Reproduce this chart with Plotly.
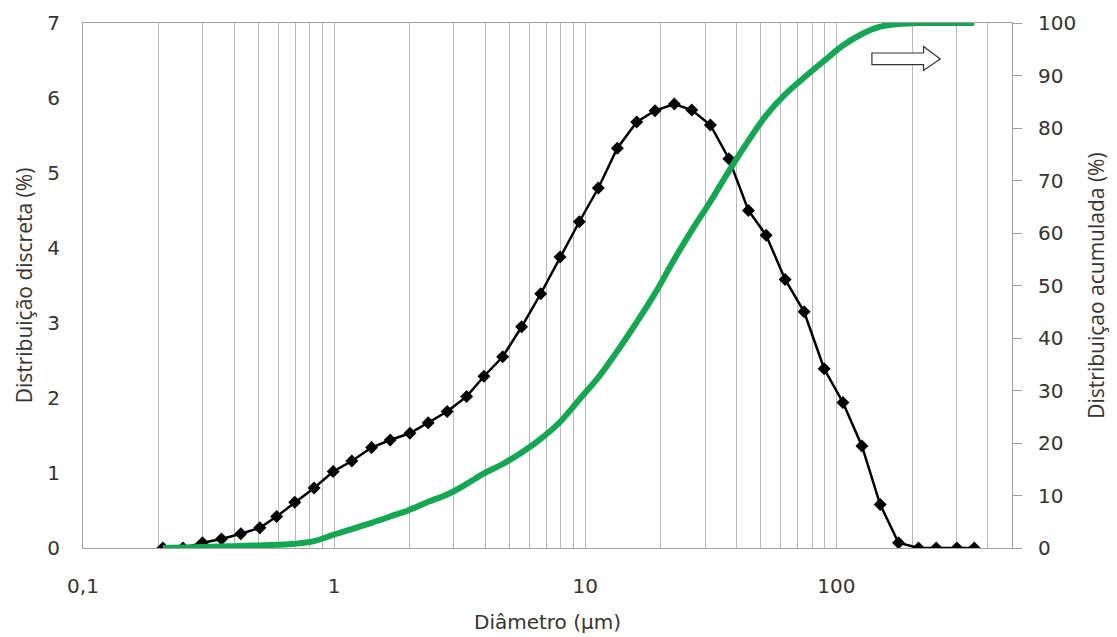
import plotly.graph_objects as go

# ---- data ----
diametro = [0.208, 0.250, 0.299, 0.356, 0.425, 0.506, 0.590, 0.697, 0.832, 0.991,
            1.176, 1.409, 1.672, 2.002, 2.369, 2.819, 3.369, 3.949, 4.688, 5.579,
            6.643, 7.929, 9.465, 11.27, 13.41, 16.02, 18.95, 22.62, 26.54, 31.48,
            37.30, 44.62, 52.48, 62.46, 74.34, 89.33, 106.1, 126.3, 149.3, 176.6,
            212.2, 249.6, 301.8, 353.7]
discreta = [0.0, 0.0, 0.07, 0.12, 0.19, 0.27, 0.42, 0.61, 0.80, 1.02,
            1.16, 1.34, 1.44, 1.53, 1.67, 1.82, 2.02, 2.29, 2.55, 2.95,
            3.39, 3.88, 4.35, 4.80, 5.33, 5.68, 5.83, 5.92, 5.84, 5.64,
            5.19, 4.50, 4.17, 3.58, 3.15, 2.39, 1.94, 1.36, 0.58, 0.07,
            0.0, 0.0, 0.0, 0.0]
acumulada = [0.0, 0.1, 0.2, 0.3, 0.4, 0.5, 0.6, 0.8, 1.3, 2.5,
             3.6, 4.8, 6.0, 7.3, 8.8, 10.2, 12.2, 14.2, 16.0, 18.2,
             20.8, 24.0, 28.3, 32.5, 37.5, 43.0, 48.5, 55.0, 60.5, 66.0,
             71.8, 77.6, 82.4, 86.4, 89.6, 92.8, 95.7, 97.9, 99.3, 99.8,
             100.0, 100.0, 100.0, 100.0]

grid_vals = [0.1, 0.2, 0.3, 0.4, 0.5, 0.6, 0.7, 0.8, 0.9,
             1, 2, 3, 4, 5, 6, 7, 8, 9,
             10, 20, 30, 40, 50, 60, 70, 80, 90,
             100, 200, 300, 400, 500]
decade_labels = {0.1: "0,1", 1: "1", 10: "10", 100: "100"}
grid_text = [decade_labels.get(v, "") for v in grid_vals]

y_left_ticks = [0, 1, 2, 3, 4, 5, 6, 7]
y_right_ticks = [0, 10, 20, 30, 40, 50, 60, 70, 80, 90, 100]

FONT = "DejaVu Sans"
VFONT = "Open Sans"
TXT = "#333333"
GRID = "#B8B8B8"
AXIS = "#A0A0A0"

fig = go.Figure()
fig.add_trace(go.Scatter(
    x=diametro, y=acumulada, mode="lines", yaxis="y2",
    line=dict(color="#14A751", width=6, shape="spline", smoothing=1.0),
    showlegend=False, hoverinfo="skip"))
fig.add_trace(go.Scatter(
    x=diametro, y=discreta, mode="lines+markers",
    line=dict(color="black", width=2.5),
    marker=dict(symbol="diamond", size=10, color="black"),
    showlegend=False))

fig.update_layout(
    width=1117, height=637,
    margin=dict(l=83, r=105, t=23, b=89),
    paper_bgcolor="white", plot_bgcolor="white",
    font=dict(family=FONT, size=20, color=TXT),
    xaxis=dict(
        type="log", range=[-1, 2.69897], automargin=False,
        tickmode="array", tickvals=grid_vals, ticktext=grid_text,
        showgrid=True, gridcolor=GRID, gridwidth=1,
        showline=True, linecolor=AXIS, linewidth=1, mirror=True,
        ticks="", ticklabelstandoff=20,
        title=dict(text="Diâmetro (µm)", standoff=17, font=dict(family=FONT, size=20)),
        zeroline=False),
    yaxis=dict(
        range=[0, 7], tickmode="array", tickvals=y_left_ticks, automargin=False,
        showgrid=False, zeroline=False,
        showline=True, linecolor=AXIS, linewidth=1,
        ticks="", ticklabelstandoff=18,
        title=dict(text="Distribuição discreta (%)", standoff=8, font=dict(family=VFONT, size=21))),
    yaxis2=dict(
        range=[0, 100], overlaying="y", side="right", automargin=False,
        tickmode="array", tickvals=y_right_ticks,
        showgrid=False, zeroline=False,
        showline=True, linecolor=AXIS, linewidth=1,
        ticks="outside", ticklen=9, tickcolor=AXIS, ticklabelstandoff=12,
        title=dict(text="Distribuiçao acumulada (%)", standoff=14, font=dict(family=VFONT, size=21))),
)

# outlined block arrow (annotation graphic) in paper coordinates
def px(xp, yp):
    return (xp - 83.3) / 928.4, (548.3 - yp) / 525.0

pts = [(871.7, 53.3), (923.3, 53.3), (923.3, 46.7), (940.0, 59.3),
       (923.3, 70.7), (923.3, 65.0), (871.7, 65.0)]
path = "M " + " L ".join(f"{a:.4f},{b:.4f}" for a, b in (px(*p) for p in pts)) + " Z"
fig.add_shape(type="path", path=path, xref="paper", yref="paper",
              line=dict(color="#333333", width=1.2), fillcolor="white")

fig.write_html("out.html")
